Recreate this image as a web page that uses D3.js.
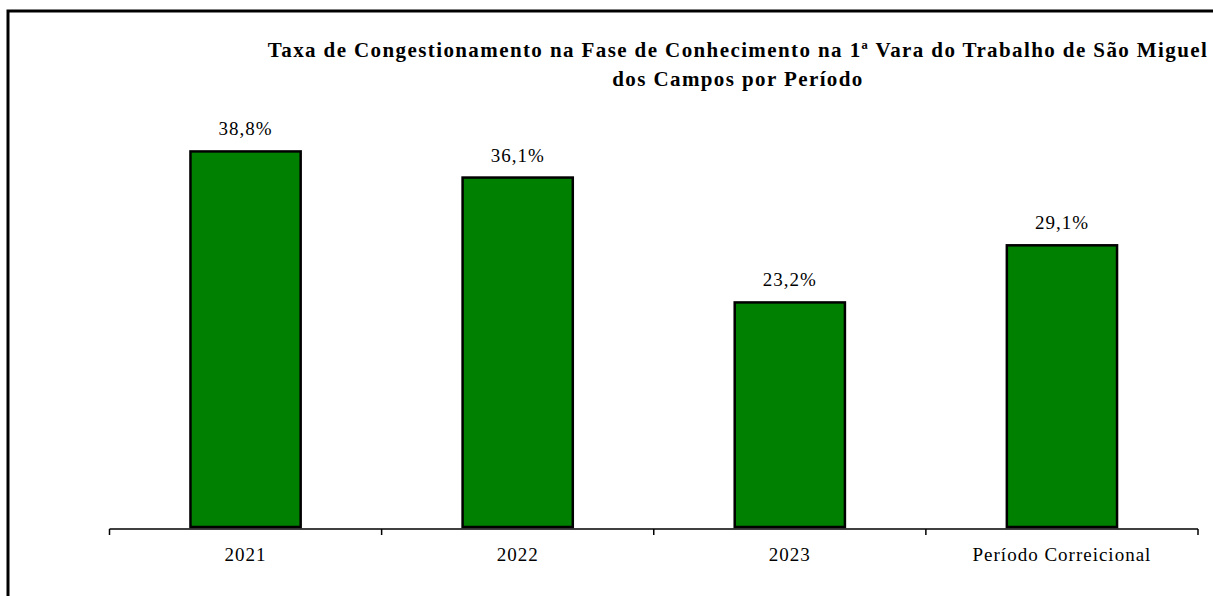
<!DOCTYPE html>
<html><head><meta charset="utf-8">
<script src="https://cdn.jsdelivr.net/npm/d3@7"></script>
<style>body{margin:0;background:#fff}svg{display:block}</style>
</head><body><svg id="c" width="1213" height="596"></svg>
<script>
const categories = ["2021", "2022", "2023", "Período Correicional"];
const values = [38.8, 36.1, 23.2, 29.1];
const labels = ["38,8%", "36,1%", "23,2%", "29,1%"];
const titleLines = ["Taxa de Congestionamento na Fase de Conhecimento na 1ª Vara do Trabalho de São Miguel", "dos Campos por Período"];

const svg = d3.select("#c");
const font = "'Liberation Serif','Times New Roman','DejaVu Serif',serif";
svg.append("rect").attr("x", 8).attr("y", 11).attr("width", 1240).attr("height", 620)
  .attr("fill", "#fff").attr("stroke", "#000").attr("stroke-width", 3);

const x = d3.scaleBand().domain(categories).range([109.5, 1198]).paddingInner(0.595).paddingOuter(0.2975);
const y = d3.scaleLinear().domain([0, 40]).range([527, 139.8]);

svg.selectAll("rect.bar").data(values).join("rect").attr("class", "bar")
  .attr("x", (d, i) => x(categories[i])).attr("width", x.bandwidth())
  .attr("y", d => y(d)).attr("height", d => y(0) - y(d))
  .attr("fill", "#008000").attr("stroke", "#000").attr("stroke-width", 2.5);

const axis = d3.axisBottom(x).tickSize(0).tickPadding(18.5);
const g = svg.append("g").attr("transform", "translate(0,529)").call(axis);
g.select(".domain").attr("stroke", "#000").attr("stroke-width", 1.5).attr("d", "M109.5,0H1198");
g.selectAll("text").attr("font-family", font).attr("font-size", 19).attr("letter-spacing", 1).attr("fill", "#000");
const step = x.step();
const bounds = d3.range(categories.length + 1).map(i => 109.5 + i * step);
g.selectAll("line.sep").data(bounds).join("line").attr("class", "sep")
  .attr("x1", d => d).attr("x2", d => d).attr("y1", 0).attr("y2", 6)
  .attr("stroke", "#000").attr("stroke-width", 1.5);

svg.selectAll("text.lbl").data(values).join("text").attr("class", "lbl")
  .attr("x", (d, i) => x(categories[i]) + x.bandwidth() / 2).attr("y", d => y(d) - 16)
  .attr("text-anchor", "middle").attr("font-family", font).attr("font-size", 19).attr("letter-spacing", 1)
  .text((d, i) => labels[i]);

svg.selectAll("text.title").data(titleLines).join("text").attr("class", "title")
  .attr("x", 738).attr("y", (d, i) => 57 + i * 29).attr("text-anchor", "middle")
  .attr("font-family", font).attr("font-size", 21).attr("letter-spacing", 1.4).attr("font-weight", "bold").text(d => d);
</script></body></html>
